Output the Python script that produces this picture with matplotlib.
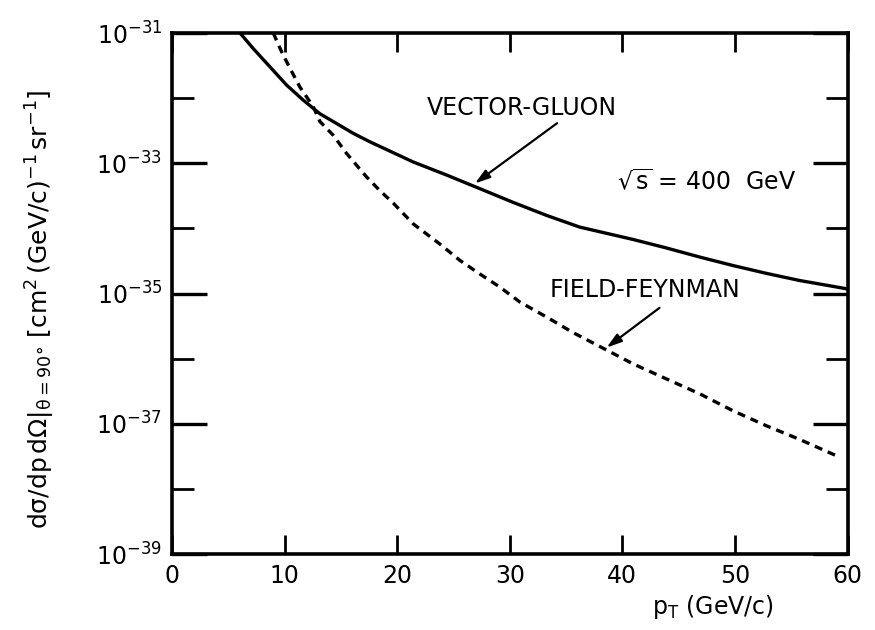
import numpy as np
import matplotlib
matplotlib.use("Agg")
import matplotlib.pyplot as plt
from matplotlib.ticker import FixedLocator, FixedFormatter

plt.rcParams['mathtext.default'] = 'regular'
plt.rcParams['font.family'] = 'DejaVu Sans'

# values: pT in GeV/c, cross section as log10
vg_pt = [6.04, 7.22, 8.70, 10.18, 11.65, 13.14, 14.62, 16.09, 17.57, 19.06, 21.42,
         24.38, 27.34, 30.29, 33.26, 36.21, 40.95, 43.9, 46.87, 49.82, 52.78,
         55.74, 58.7, 60.0]
vg_log = [-31.0, -31.24, -31.52, -31.80, -32.03, -32.24, -32.39, -32.54, -32.67,
          -32.79, -32.98, -33.18, -33.39, -33.60, -33.80, -33.98, -34.17, -34.30,
          -34.44, -34.57, -34.69, -34.80, -34.89, -34.93]

ff_pt = [8.99, 9.74, 10.47, 11.36, 12.54, 13.14, 14.32, 15.51, 16.39, 17.28, 18.46,
         19.64, 21.42, 23.79, 25.56, 27.34, 29.11, 30.89, 33.26, 35.62, 38.29,
         40.95, 43.9, 46.87, 49.82, 52.78, 55.74, 59.0]
ff_log = [-31.0, -31.29, -31.54, -31.83, -32.13, -32.36, -32.57, -32.85, -33.03,
          -33.21, -33.42, -33.61, -33.93, -34.24, -34.49, -34.70, -34.90, -35.13,
          -35.36, -35.60, -35.84, -36.08, -36.31, -36.54, -36.80, -37.03, -37.24,
          -37.49]

x_ticks = [0, 10, 20, 30, 40, 50, 60]
y_major = [1e-31, 1e-33, 1e-35, 1e-37, 1e-39]
y_major_labels = ['$10^{-31}$', '$10^{-33}$', '$10^{-35}$', '$10^{-37}$', '$10^{-39}$']
y_minor = [1e-32, 1e-34, 1e-36, 1e-38]

fig = plt.figure(figsize=(8.75, 6.3), dpi=100)
ax = fig.add_axes([0.1966, 0.1206, 0.772, 0.827])

ax.plot(vg_pt, 10.0 ** np.array(vg_log), color='black', lw=2.4)
ax.plot(ff_pt, 10.0 ** np.array(ff_log), color='black', lw=2.4,
        linestyle=(0, (2.4, 1.8)))

ax.set_yscale('log')
ax.set_xlim(0, 60)
ax.set_ylim(1e-39, 1e-31)

ax.xaxis.set_major_locator(FixedLocator(x_ticks))
ax.set_xticklabels([str(v) for v in x_ticks])
ax.yaxis.set_major_locator(FixedLocator(y_major))
ax.yaxis.set_major_formatter(FixedFormatter(y_major_labels))
ax.yaxis.set_minor_locator(FixedLocator(y_minor))
ax.yaxis.set_minor_formatter(FixedFormatter([''] * len(y_minor)))

ax.tick_params(axis='x', which='major', direction='in', length=14, width=2,
               top=True, bottom=True, labelsize=17, pad=7)
ax.tick_params(axis='y', which='major', direction='in', length=25, width=2.4,
               left=True, right=True, labelsize=17, pad=7)
ax.tick_params(axis='y', which='minor', direction='in', length=16, width=2,
               left=True, right=True)
for s in ax.spines.values():
    s.set_linewidth(2.6)

ax.set_xlabel('$p_{T}$ (GeV/c)', fontsize=17)
ax.xaxis.set_label_coords(0.80, -0.075)
ax.set_ylabel(r'$d\sigma/dp\,d\Omega|_{\theta=90°}\ [\mathrm{cm}^2\,(\mathrm{GeV/c})^{-1}\,\mathrm{sr}^{-1}]$',
              fontsize=18)
ax.yaxis.set_label_coords(-0.17, 0.47)

arrow = dict(arrowstyle='-|>,head_length=0.9,head_width=0.28', color='black',
             lw=1.6, shrinkA=0, shrinkB=0)
ax.text(22.6, 10 ** -32.15, 'VECTOR-GLUON', fontsize=17, ha='left', va='center')
ax.annotate('', xy=(26.9, 10 ** -33.31), xytext=(34.2, 10 ** -32.385),
            arrowprops=arrow)
ax.text(33.5, 10 ** -34.95, 'FIELD-FEYNMAN', fontsize=17, ha='left', va='center')
ax.annotate('', xy=(38.6, 10 ** -35.83), xytext=(43.3, 10 ** -35.22),
            arrowprops=arrow)
ax.text(39.5, 10 ** -33.29, r'$\sqrt{s}$ = 400  GeV', fontsize=17, ha='left', va='center')

fig.savefig('out.png', dpi=100)
